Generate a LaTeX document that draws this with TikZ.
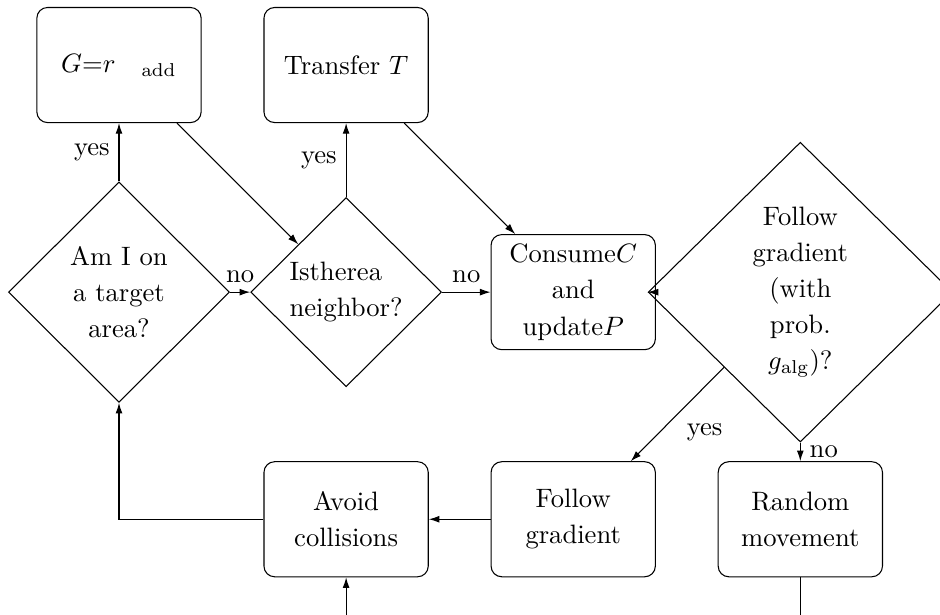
\documentclass[tikz,border=0pt]{standalone}
\usepackage{tikz}
\usetikzlibrary{arrows.meta,shapes.geometric}

\begin{document}
\begin{tikzpicture}[font=\fontsize{10}{13.6}\selectfont,
  block/.style={draw, rectangle, rounded corners, minimum width=2.17cm, minimum height=1.52cm, align=center},
  decision/.style={draw, diamond, inner sep=0pt, align=center},
  line/.style={draw, -{Latex[length=4pt,width=2.6pt]}}]
  \useasboundingbox (-1.572,-7.252) rectangle (10.845,0.859);
  \node[block] (reward) at (0,0) {$G$=$r_{\quad\mathrm{add}}$};
  \node[block] (transfer) at (3,0) {Transfer $T$};
  \node[decision, minimum width=2.92cm, minimum height=2.91cm] (target) at (0,-3)
    {Am I on\\a target\\area?};
  \node[decision, align=left, minimum width=2.52cm, minimum height=2.5cm] (neighbor) at (3,-3)
    {Istherea\\neighbor?};
  \node[block] (consume) at (6,-3) {Consume$C$\\and\\update$P$};
  \node[decision, minimum width=4.02cm, minimum height=3.96cm] (gradq) at (9,-3)
    {Follow\\gradient\\(with\\prob.\\$g_{\mathrm{alg}}$)?};
  \node[block] (avoid) at (3,-6) {Avoid\\collisions};
  \node[block] (follow) at (6,-6) {Follow\\gradient};
  \node[block] (random) at (9,-6) {Random\\movement};

  \path[line] (target) -- node[left] {yes} (reward);
  \path[line] (target) -- node[above] {no} (neighbor);
  \path[line] (neighbor) -- node[left] {yes} (transfer);
  \path[line] (neighbor) -- node[above] {no} (consume);
  \path[line] (reward) -- (neighbor);
  \path[line] (transfer) -- (consume);
  \path[line] (consume) -- (gradq);
  \path[line] (gradq.south west) -- node[below right] {yes} (follow);
  \path[line] (gradq) -- node[right] {no} (random);
  \path[line] (follow) -- (avoid);
  \path[line] (avoid.west) -| (target.south);
  \path[line] (random.south) -- ++(0,-1) -| (avoid.south);
\end{tikzpicture}
\end{document}
